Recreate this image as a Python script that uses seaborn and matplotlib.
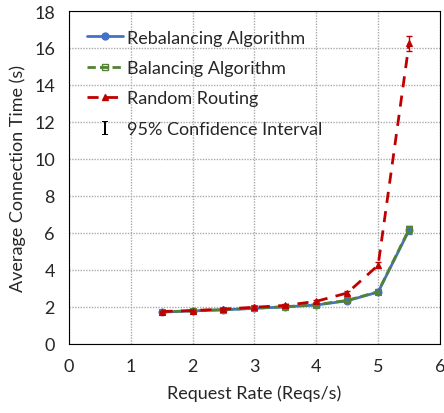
import numpy as np
import pandas as pd
import seaborn as sns
import matplotlib.pyplot as plt
from matplotlib.lines import Line2D

sns.set_style('ticks')
plt.rcParams['font.family'] = ['Lato', 'DejaVu Sans']
plt.rcParams['mathtext.fontset'] = 'dejavuserif'

rate = [1.5, 2.0, 2.5, 3.0, 3.5, 4.0, 4.5, 5.0, 5.5]
rebalancing = [1.72, 1.78, 1.84, 1.92, 2.0, 2.1, 2.33, 2.8, 6.15]
balancing = [1.73, 1.79, 1.85, 1.93, 2.01, 2.12, 2.35, 2.82, 6.2]
random_routing = [1.75, 1.8, 1.88, 1.98, 2.08, 2.3, 2.75, 4.25, 16.25]
ci_rebal = [0.05, 0.05, 0.05, 0.05, 0.05, 0.05, 0.08, 0.12, 0.2]
ci_bal = [0.05, 0.05, 0.05, 0.05, 0.05, 0.05, 0.08, 0.12, 0.2]
ci_rand = [0.05, 0.05, 0.05, 0.05, 0.06, 0.08, 0.1, 0.15, 0.4]

fig = plt.figure(figsize=(4.44, 4.14), dpi=100)
ax = fig.add_axes([0.155, 0.167, 0.836, 0.804])

series = [
    ('Rebalancing Algorithm', rebalancing, ci_rebal, '#4472C4', '-', 'o', '#4472C4'),
    ('Balancing Algorithm', balancing, ci_bal, '#548235', (0, (3, 1.5)), 's', 'none'),
    ('Random Routing', random_routing, ci_rand, '#C00000', (0, (4, 3)), '^', '#C00000'),
]
handles = []
for name, vals, ci, col, ls, mk, fc in series:
    df = pd.DataFrame({'x': rate, 'y': vals})
    sns.lineplot(data=df, x='x', y='y', ax=ax, color=col, linestyle=ls, linewidth=2,
                 marker=mk, markersize=5, markerfacecolor=fc, markeredgecolor=col,
                 label=name, legend=False)
    ax.errorbar(rate, vals, yerr=ci, fmt='none', ecolor=col, elinewidth=1, capsize=2)
    handles.append(Line2D([], [], color=col, linestyle=ls, linewidth=2, marker=mk,
                          markersize=5, markerfacecolor=fc, markeredgecolor=col))

handles.append(Line2D([], [], color='black', linestyle='none', marker=r'$\mathrm{I}$',
                      markersize=10, markeredgewidth=0))
labels = [s[0] for s in series] + ['95% Confidence Interval']
ax.legend(handles, labels, loc='upper left', bbox_to_anchor=(0.005, 0.993), frameon=False,
          fontsize=13, handlelength=2.0, handletextpad=0.2, labelspacing=0.8)

ax.set_xlim(0, 6)
ax.set_ylim(0, 18)
ax.set_xticks(range(0, 7))
ax.set_yticks(range(0, 19, 2))
ax.grid(True, color='#aaaaaa', linestyle=(0, (1, 1)), linewidth=1)
for sp in ax.spines.values():
    sp.set_color('black')
    sp.set_linewidth(0.8)
ax.tick_params(length=0, labelsize=13, pad=10)
ax.set_xlabel('Request Rate (Reqs/s)', fontsize=13, labelpad=8)
ax.set_ylabel('Average Connection Time (s)', fontsize=13, labelpad=6)

fig.savefig('out.png', dpi=100)
